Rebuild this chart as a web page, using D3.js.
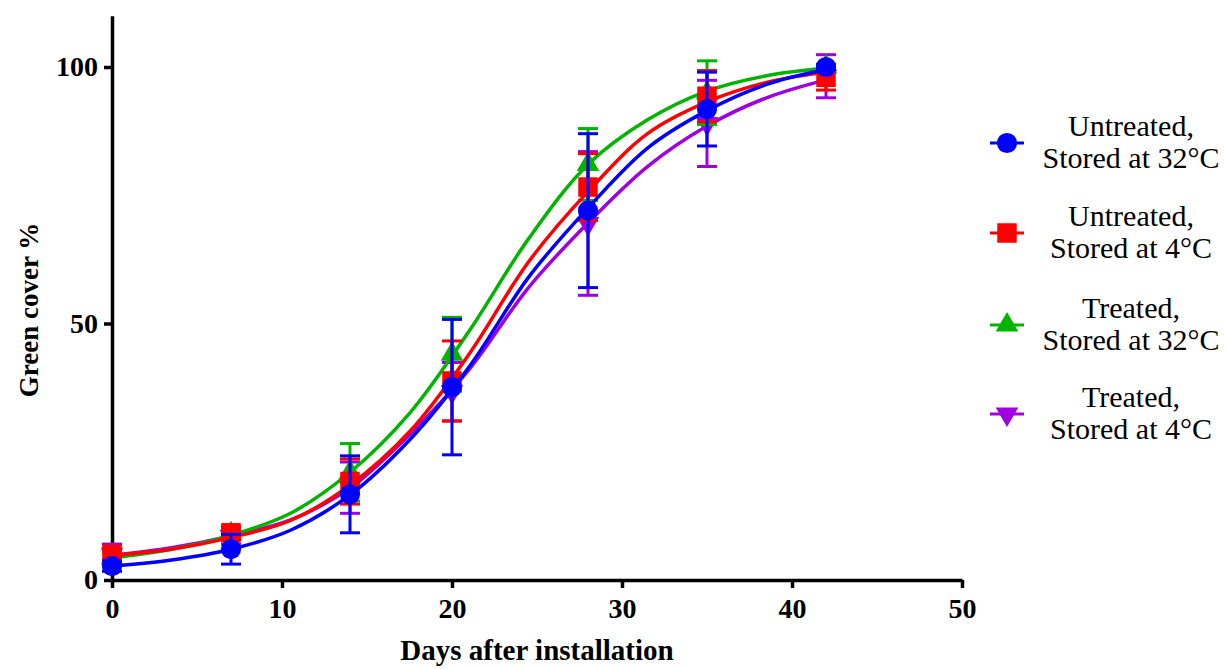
<!DOCTYPE html>
<html>
<head>
<meta charset="utf-8">
<script src="https://cdn.jsdelivr.net/npm/d3@7"></script>
<style>
  body { margin: 0; background: #fff; }
  svg { display: block; }
  text { font-family: "Liberation Serif", "Times New Roman", serif; }
</style>
</head>
<body>
<svg width="1225" height="669"></svg>
<script>
// sampling days for measured points
const days = [0, 7, 14, 20, 28, 35, 42]
const fitDays = [0, 3.5, 7, 10.5, 14, 17.5, 21, 24.5, 28, 31.5, 35, 38.5, 42]

const seriesNames = ['Untreated,|Stored at 32°C', 'Untreated,|Stored at 4°C', 'Treated,|Stored at 32°C', 'Treated,|Stored at 4°C']

// mean green cover %
const u32Mean = [2.7, 6.0, 16.7, 37.6, 72.0, 91.8, 100]
const u4Mean = [5.0, 9.2, 19.2, 38.8, 76.6, 94.3, 98.0]
const t32Mean = [4.3, 9.0, 21.0, 44.0, 81.0, 95.0, 100]
const t4Mean = [5.0, 8.5, 18.0, 36.7, 69.5, 89.0, 98.2]

// error (+/-)
const u32Err = [1.0, 2.9, 7.5, 13.2, 15.0, 7.2, 0.5]
const u4Err = [1.0, 1.2, 4.4, 7.8, 6.5, 5.0, 2.5]
const t32Err = [1.0, 1.0, 5.6, 7.2, 7.0, 6.2, 0.5]
const t4Err = [2.0, 1.5, 5.0, 5.7, 14.0, 8.4, 4.2]

// fitted curves
const u32Fit = [2.7, 3.9, 6.0, 9.7, 16.6, 27.3, 41.5, 59.0, 72.5, 84.2, 91.5, 96.6, 99.5]
const u4Fit = [4.8, 6.0, 8.3, 11.6, 18.5, 28.9, 44.0, 62.0, 75.7, 87.0, 93.2, 97.0, 99.0]
const t32Fit = [4.3, 6.0, 8.7, 13.0, 21.0, 32.5, 48.5, 66.5, 81.0, 89.7, 95.3, 98.3, 99.8]
const t4Fit = [4.8, 6.3, 8.6, 11.7, 17.9, 28.3, 41.0, 57.0, 69.6, 80.6, 88.5, 94.0, 97.5]

const xTicks = [0, 10, 20, 30, 40, 50]
const yTicks = [0, 50, 100]

const colors = ['#0000ff', '#ff0000', '#00b400', '#a000e0']
const symbols = [d3.symbolCircle, d3.symbolSquare, d3.symbolTriangle, d3.symbolTriangle]
const symSizes = [320, 380, 220, 220]
const symRotate = [0, 0, 0, 180]

const series = [
    {mean: u32Mean, err: u32Err, fit: u32Fit},
    {mean: u4Mean, err: u4Err, fit: u4Fit},
    {mean: t32Mean, err: t32Err, fit: t32Fit},
    {mean: t4Mean, err: t4Err, fit: t4Fit}
]

const svg = d3.select('svg')

const x = d3.scaleLinear().domain([0, 50]).range([112, 962])
const y = d3.scaleLinear().domain([0, 110]).range([580, 15.7])

// axes
const xAxis = svg.append('g').attr('transform', `translate(0, ${y(0)})`)
    .call(d3.axisBottom(x).tickValues(xTicks).tickSize(8).tickPadding(10).tickSizeOuter(0))
const yAxis = svg.append('g').attr('transform', `translate(${x(0)}, 0)`)
    .call(d3.axisLeft(y).tickValues(yTicks).tickSize(8).tickPadding(6).tickSizeOuter(0))

;[xAxis, yAxis].forEach(a => {
    a.selectAll('path, line').attr('stroke', '#000').attr('stroke-width', 3.5)
    a.selectAll('text').attr('fill', '#000').attr('font-size', 28).attr('font-weight', 'bold')
        .style('font-family', '"Liberation Serif", serif')
})

svg.append('text').attr('x', 537).attr('y', 660).attr('text-anchor', 'middle')
    .attr('font-size', 29).attr('font-weight', 'bold').text('Days after installation')
svg.append('text').attr('transform', 'translate(38, 310) rotate(-90)').attr('text-anchor', 'middle')
    .attr('font-size', 27).attr('font-weight', 'bold').text('Green cover %')

const line = d3.line().x(d => x(d[0])).y(d => y(d[1])).curve(d3.curveCatmullRom.alpha(0.5))
const plot = svg.append('g')

// draw purple, green, red, blue (blue on top)
const order = [3, 2, 1, 0]
order.forEach(i => {
    const s = series[i]
    const g = plot.append('g')
    g.append('path').attr('d', line(fitDays.map((d, k) => [d, s.fit[k]])))
        .attr('fill', 'none').attr('stroke', colors[i]).attr('stroke-width', 3.5)

    const bars = g.selectAll('.err').data(days.map((d, k) => ({d, m: s.mean[k], e: s.err[k]})))
        .enter().append('g')
    bars.append('line').attr('x1', d => x(d.d)).attr('x2', d => x(d.d))
        .attr('y1', d => y(d.m - d.e)).attr('y2', d => y(d.m + d.e))
        .attr('stroke', colors[i]).attr('stroke-width', 3)
    ;[-1, 1].forEach(sign => {
        bars.append('line').attr('x1', d => x(d.d) - 10).attr('x2', d => x(d.d) + 10)
            .attr('y1', d => y(d.m + sign * d.e)).attr('y2', d => y(d.m + sign * d.e))
            .attr('stroke', colors[i]).attr('stroke-width', 3)
    })
    bars.append('path').attr('d', d3.symbol(symbols[i], symSizes[i]))
        .attr('transform', d => `translate(${x(d.d)}, ${y(d.m)}) rotate(${symRotate[i]})`)
        .attr('fill', colors[i])
})

// legend
const legendY = [143, 233, 325, 414]
seriesNames.forEach((name, i) => {
    const g = svg.append('g').attr('transform', `translate(1007, ${legendY[i]})`)
    g.append('line').attr('x1', -17).attr('x2', 17).attr('stroke', colors[i]).attr('stroke-width', 3)
    g.append('path').attr('d', d3.symbol(symbols[i], symSizes[i]))
        .attr('transform', `rotate(${symRotate[i]})`).attr('fill', colors[i])
    const lines = name.split('|')
    lines.forEach((t, k) => {
        svg.append('text').attr('x', 1131).attr('y', legendY[i] - 7 + k * 32)
            .attr('text-anchor', 'middle').attr('font-size', 30).attr('fill', '#000').text(t)
    })
})
</script>
</body>
</html>
